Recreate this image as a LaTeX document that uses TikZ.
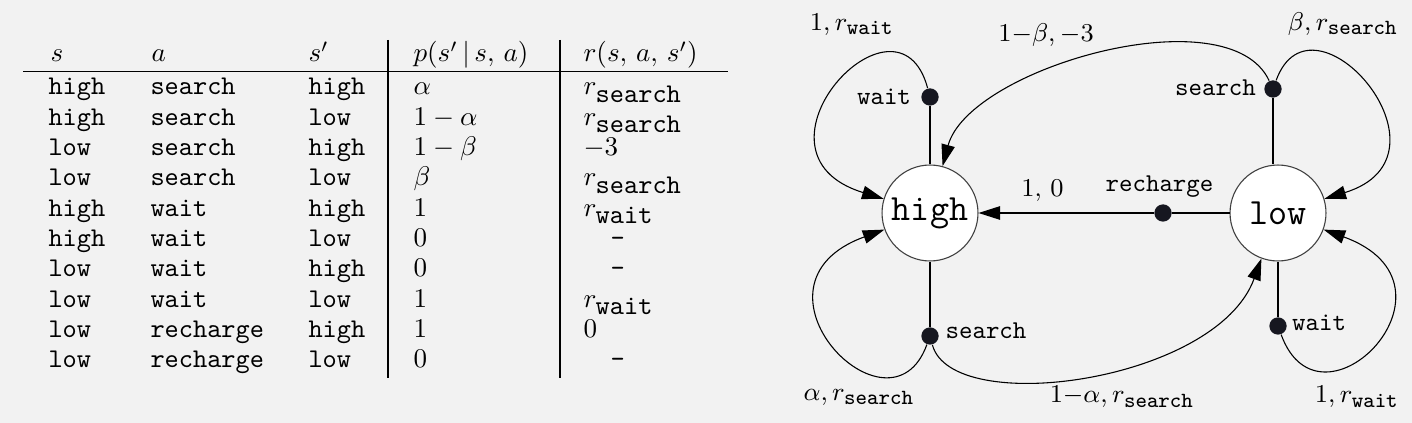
\RequirePackage{fix-cm}
\documentclass[tikz,border=0pt]{standalone}
\usepackage{tikz}
\usetikzlibrary{arrows.meta}
\definecolor{bgcol}{RGB}{242,242,242}
\definecolor{dotcol}{RGB}{22,23,32}
\newcommand{\rtab}[1]{r_{\mbox{\ttfamily #1}}}
\newcommand{\rlab}[1]{r_{\mbox{\fontsize{8pt}{9pt}\selectfont\ttfamily #1}}}

\begin{document}
\begin{tikzpicture}[x=0.37pt, y=0.37pt,
    cell/.style={anchor=base west, inner sep=0pt},
    state/.style={circle, draw=black!75, thin, fill=white, minimum size=35.5pt, inner sep=0pt,
      font=\fontsize{13.7pt}{16pt}\selectfont\ttfamily},
    act/.style={circle, fill=dotcol, minimum size=6.4pt, inner sep=0pt},
    actlbl/.style={inner sep=0pt, font=\fontsize{9.5pt}{11pt}\selectfont\ttfamily},
    prob/.style={inner sep=0pt, font=\fontsize{9.5pt}{11pt}\selectfont},
    arr/.style={-{Triangle[length=8pt, width=5pt]}}]
	\path[use as bounding box, fill=bgcol] (0,0) rectangle (1412,-423);
	\draw[line width=0.6pt] (23,-71.5) -- (728,-71.5);
	\foreach \xx in {388,560} {
		\draw[line width=0.6pt] (\xx,-40) -- (\xx,-378);
	}
	\node[cell] (hs) at (50,-62) {$s$};
	\node[cell] (ha) at (151,-62) {$a$};
	\node[cell] (hn) at (308,-62) {$s'$};
	\node[cell] (hp) at (413,-62) {$p(s'\,|\,s,\,a)$};
	\node[cell] (hr) at (583,-62) {$r(s,\,a,\,s')$};
	\foreach \st/\ac/\nx/\pr/\rw [count=\i] in {
		high/search/high/{$\alpha$}/{$\rtab{search}$},
		high/search/low/{$1-\alpha$}/{$\rtab{search}$},
		low/search/high/{$1-\beta$}/{$-3$},
		low/search/low/{$\beta$}/{$\rtab{search}$},
		high/wait/high/{$1$}/{$\rtab{wait}$},
		high/wait/low/{$0$}/{\hspace{10pt}\texttt{-}},
		low/wait/high/{$0$}/{\hspace{10pt}\texttt{-}},
		low/wait/low/{$1$}/{$\rtab{wait}$},
		low/recharge/high/{$1$}/{$0$},
		low/recharge/low/{$0$}/{\hspace{10pt}\texttt{-}}} {
		\node[cell, font=\ttfamily] (st\i) at (48,{-95-30.3*(\i-1)}) {\st};
		\node[cell, font=\ttfamily] (ac\i) at (150,{-95-30.3*(\i-1)}) {\ac};
		\node[cell, font=\ttfamily] (nx\i) at (308,{-95-30.3*(\i-1)}) {\nx};
		\node[cell] (pr\i) at (413,{-95-30.3*(\i-1)}) {\pr};
		\node[cell] (rw\i) at (583,{-95-30.3*(\i-1)}) {\rw};
	}
	\node[state] (high) at (930,-213) {high};
	\node[state] (low) at (1278,-213) {low};
	\node[act] (hwait) at (930,-97) {};
	\node[act] (hsearch) at (930,-336) {};
	\node[act] (lsearch) at (1273,-89) {};
	\node[act] (lwait) at (1278,-326) {};
	\node[act] (rech) at (1163,-213) {};
	\node[actlbl] (thw) at (884,-96.7) {wait};
	\node[actlbl] (ths) at (986,-331) {search};
	\node[actlbl] (tls) at (1215.5,-87.5) {search};
	\node[actlbl] (tlw) at (1319,-322.5) {wait};
	\node[actlbl] (trc) at (1159.5,-186.7) {recharge};
	\draw (hwait) -- (high);
	\draw (hsearch) -- (high);
	\draw (lsearch) -- (lsearch |- low.north);
	\draw (lwait) -- (low);
	\draw (low) -- (rech);
	\draw[arr] (rech) -- (high);
	\draw[arr] (hwait) .. controls +(105:125) and +(163:205) .. (high);
	\draw[arr] (hsearch) .. controls +(250:118) and +(200:210) .. (high);
	\draw[arr] (hsearch) .. controls +(285:85) and +(250:180) .. (low);
	\draw[arr] (lsearch) .. controls +(115:105) and +(75:150) .. (high);
	\draw[arr] (lsearch) .. controls +(70:115) and +(17:195) .. (low);
	\draw[arr] (lwait) .. controls +(290:125) and +(340:210) .. (low);
	\node[prob] (phw) at (852,-24.5) {$1, \rlab{wait}$};
	\node[prob] (plh) at (1046,-35) {$1{-}\beta, -3$};
	\node[prob] (pls) at (1343,-24) {$\beta, \rlab{search}$};
	\node[prob] (prc) at (1042.5,-191) {$1$, $0$};
	\node[prob] (phs) at (859,-397) {$\alpha, \rlab{search}$};
	\node[prob] (phl) at (1122,-397) {$1{-}\alpha, \rlab{search}$};
	\node[prob] (plw) at (1357,-397) {$1, \rlab{wait}$};
\end{tikzpicture}
\end{document}
